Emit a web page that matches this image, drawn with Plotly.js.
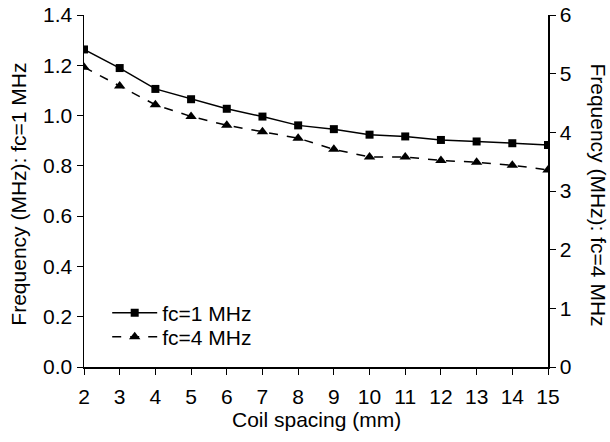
<!DOCTYPE html>
<html>
<head>
<meta charset="utf-8">
<script src="https://cdn.plot.ly/plotly-3.0.1.min.js"></script>
<style>html,body{margin:0;padding:0;background:#fff;}#chart{width:610px;height:442px;}</style>
</head>
<body>
<div id="chart"></div>
<script>
const coilSpacing = [2, 3, 4, 5, 6, 7, 8, 9, 10, 11, 12, 13, 14, 15];
const freq1MHz = [1.263, 1.189, 1.106, 1.065, 1.027, 0.996, 0.961, 0.946, 0.924, 0.917, 0.903, 0.897, 0.890, 0.883];
const freq4MHz = [5.11, 4.79, 4.47, 4.27, 4.12, 4.01, 3.90, 3.71, 3.58, 3.58, 3.52, 3.49, 3.44, 3.36];
const seriesNames = ["fc=1 MHz", "fc=4 MHz"];
const xTitle = "Coil spacing (mm)";
const yTitle = "Frequency (MHz): fc=1 MHz";
const y2Title = "Frequency (MHz): fc=4 MHz";

const font = "Liberation Sans, Arial, sans-serif";
const fs = 21;

const traces = [
  {
    x: coilSpacing, y: freq1MHz, name: seriesNames[0], type: "scatter", mode: "lines+markers",
    line: {color: "#000", width: 1.5, dash: "solid"},
    marker: {symbol: "square", size: 8, color: "#000"},
    yaxis: "y", legend: "legend"
  },
  {
    x: coilSpacing, y: freq4MHz, name: seriesNames[1], type: "scatter", mode: "lines+markers",
    line: {color: "#000", width: 1.5, dash: "dash"},
    marker: {symbol: "triangle-up", size: 10, color: "#000"},
    yaxis: "y2", legend: "legend2"
  }
];

const axisCommon = {
  showgrid: false, zeroline: false, showline: true, linecolor: "#000", linewidth: 1.5,
  ticks: "outside", ticklen: 6, tickwidth: 1, tickcolor: "#000",
  tickfont: {size: fs}, automargin: false
};

const legendCommon = {xanchor: "left", yanchor: "middle", bgcolor: "rgba(0,0,0,0)", font: {size: fs}, itemwidth: 45};

const layout = {
  width: 610, height: 442,
  margin: {l: 84, r: 62, t: 15, b: 75, pad: 0},
  paper_bgcolor: "#fff", plot_bgcolor: "#fff",
  font: {family: font, size: fs, color: "#000"},
  showlegend: true,
  legend: Object.assign({x: 0.05, y: 0.153}, legendCommon),
  legend2: Object.assign({x: 0.05, y: 0.085}, legendCommon),
  xaxis: Object.assign({range: [2, 15], tickmode: "array", tickvals: coilSpacing, ticklabelstandoff: 4}, axisCommon),
  yaxis: Object.assign({range: [0, 1.4], dtick: 0.2, tickformat: ".1f"}, axisCommon),
  yaxis2: Object.assign({range: [0, 6], dtick: 1, overlaying: "y", side: "right"}, axisCommon),
  annotations: [
    {text: xTitle, xref: "paper", yref: "paper", x: 0.5, y: -0.148, xanchor: "center", yanchor: "middle", showarrow: false, font: {size: fs}},
    {text: yTitle, xref: "paper", yref: "paper", x: -0.142, y: 0.49, xanchor: "center", yanchor: "middle", textangle: -90, showarrow: false, font: {size: fs}},
    {text: y2Title, xref: "paper", yref: "paper", x: 1.108, y: 0.49, xanchor: "center", yanchor: "middle", textangle: 90, showarrow: false, font: {size: fs}}
  ]
};

Plotly.newPlot("chart", traces, layout, {displayModeBar: false, staticPlot: true});
</script>
</body>
</html>
